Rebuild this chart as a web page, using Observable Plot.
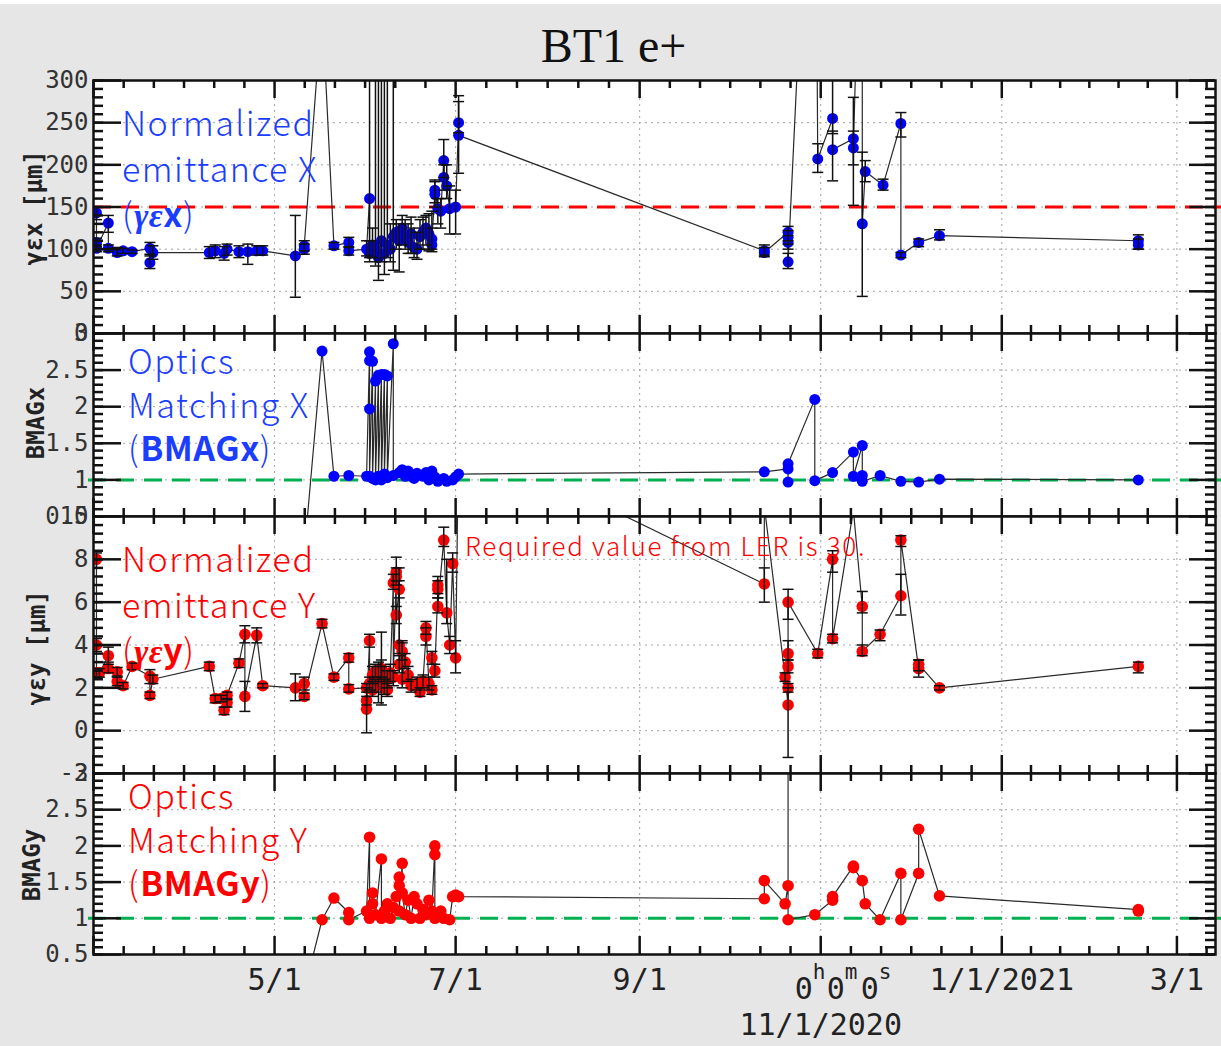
<!DOCTYPE html>
<html><head><meta charset="utf-8">
<script src="https://cdn.jsdelivr.net/npm/d3@7"></script>
<script src="https://cdn.jsdelivr.net/npm/@observablehq/plot@0.6"></script>
<style>
html,body{margin:0;padding:0;background:#e6e6e6;}
#wrap{position:relative;width:1221px;height:1046px;background:#e6e6e6;overflow:hidden;}
#strip{position:absolute;left:0;top:0;width:1221px;height:4px;background:#fff;}
#title{position:absolute;left:3px;top:21px;width:1221px;text-align:center;font-family:"Liberation Serif",serif;font-size:48px;line-height:50px;color:#111;}
.panel{position:absolute;left:0;}
.lab{position:absolute;font-family:"Noto Sans CJK JP","Noto Sans",sans-serif;font-weight:300;font-size:34px;letter-spacing:1.5px;white-space:nowrap;}
.lab b{font-weight:700;letter-spacing:0.5px;}
.lab .gr{font-family:"Liberation Serif",serif;font-style:italic;font-weight:700;}
.ytitle{position:absolute;font-family:"DejaVu Sans Mono",monospace;font-weight:bold;font-size:24px;color:#222;white-space:pre;transform:translate(-50%,-50%) rotate(-90deg);}
</style></head>
<body><div id="wrap"><div id="strip"></div><div id="title">BT1 e+</div></div>
<script>
// ---------------- data ----------------
// x axis
const xDomainStr = ["2020-03-01", "2021-03-14"];
const xMajorStr = ["2020-03-01","2020-05-01","2020-07-01","2020-09-01","2020-11-01","2021-01-01","2021-03-01"];
const xLabelDates = ["2020-05-01","2020-07-01","2020-09-01","2020-11-01","2021-01-01","2021-03-01"];
const xLabelText = ["5/1","7/1","9/1","11/1/2020","1/1/2021","3/1"];
const stampDate = "2020-11-01";              // the tick that also carries a time stamp
const stampGlyphs = ["0","h","0","m","0","s"]; // 0h0m0s

// panel 1: normalized emittance X [um]  [date, value, errLow, errHigh]
const gexRows = [
["2020-03-02",143,135,150],["2020-03-02",108,103,113],["2020-03-02",101,97,105],
["2020-03-06",131,120,140],["2020-03-06",101,97,105],["2020-03-09",96,92,102],
["2020-03-11",98,95,101],["2020-03-14",97,95,99],["2020-03-20",101,94,108],
["2020-03-20",84,77,92],["2020-03-21",96,88,104],["2020-04-09",96,89,103],
["2020-04-11",98,90,105],["2020-04-14",95,87,103],["2020-04-15",100,93,106],
["2020-04-19",97,90,104],["2020-04-22",97,82,106],["2020-04-25",98,93,104],
["2020-04-27",98,93,104],["2020-05-08",92,43,140],["2020-05-11",100,94,106],
["2020-05-11",104,98,110],["2020-05-17",390,null,null],["2020-05-21",104,100,108],
["2020-05-26",108,102,114],["2020-05-26",98,93,103],["2020-06-01",100,92,110],
["2020-06-02",160,90,420],["2020-06-02",95,85,110],["2020-06-03",105,90,125],
["2020-06-04",100,80,420],["2020-06-05",90,63,420],["2020-06-06",110,85,420],
["2020-06-07",95,70,420],["2020-06-08",105,90,420],["2020-06-09",100,85,130],
["2020-06-10",115,75,420],["2020-06-11",120,100,135],["2020-06-12",110,73,130],
["2020-06-13",125,105,140],["2020-06-14",115,100,135],["2020-06-15",108,95,130],
["2020-06-16",118,95,138],["2020-06-17",102,90,125],["2020-06-18",100,88,120],
["2020-06-19",115,100,135],["2020-06-20",120,100,138],["2020-06-21",125,105,140],
["2020-06-22",118,98,142],["2020-06-23",105,97,145],["2020-06-23",112,100,125],
["2020-06-24",165,150,180],["2020-06-24",170,155,182],["2020-06-25",148,130,160],
["2020-06-26",145,125,160],["2020-06-27",205,185,230],["2020-06-27",185,170,200],
["2020-06-28",175,160,200],["2020-06-29",148,118,175],["2020-07-01",150,118,170],
["2020-07-02",250,238,282],["2020-07-02",235,190,275],["2020-10-13",98,93,105],
["2020-10-13",96,91,102],["2020-10-21",120,110,127],["2020-10-21",114,106,122],
["2020-10-21",108,100,116],["2020-10-21",85,77,95],["2020-10-30",750,null,null],
["2020-10-31",207,191,225],["2020-11-05",255,237,400],["2020-11-05",218,181,240],
["2020-11-12",231,152,280],["2020-11-12",220,200,240],["2020-11-15",600,null,null],
["2020-11-15",130,44,215],["2020-11-16",192,180,205],["2020-11-22",176,170,183],
["2020-11-28",249,233,262],["2020-11-28",93,90,96],["2020-12-04",108,103,112],
["2020-12-11",116,111,123],["2021-02-16",110,100,117],["2021-02-16",105,100,112]
];

// panel 2: BMAGx  [date, value]
const bmagxRows = [
["2020-03-02",0],["2020-04-27",0],["2020-05-11",0],["2020-05-17",2.76],["2020-05-21",1.05],
["2020-05-26",1.06],["2020-06-01",1.05],["2020-06-02",2.75],["2020-06-02",2.63],["2020-06-02",1.97],
["2020-06-02",1.05],["2020-06-03",2.62],["2020-06-03",1.02],["2020-06-04",2.35],["2020-06-04",1.0],
["2020-06-05",2.43],["2020-06-05",1.05],["2020-06-06",2.44],["2020-06-06",1.0],["2020-06-07",2.44],
["2020-06-07",1.08],["2020-06-08",2.42],["2020-06-08",1.03],["2020-06-10",2.86],["2020-06-10",1.06],
["2020-06-12",1.1],["2020-06-13",1.14],["2020-06-14",1.05],["2020-06-15",1.12],["2020-06-16",1.08],
["2020-06-17",1.02],["2020-06-18",1.09],["2020-06-20",1.05],["2020-06-21",1.1],["2020-06-22",1.0],
["2020-06-23",1.12],["2020-06-24",1.04],["2020-06-25",0.98],["2020-06-27",1.02],["2020-06-28",0.98],
["2020-06-30",1.0],["2020-07-01",1.04],["2020-07-02",1.08],["2020-10-13",1.11],["2020-10-21",1.15],
["2020-10-21",0.97],["2020-10-21",1.22],["2020-10-30",2.1],["2020-10-30",0.99],["2020-11-05",1.1],
["2020-11-12",1.38],["2020-11-12",1.05],["2020-11-15",1.47],["2020-11-15",1.06],["2020-11-15",0.98],
["2020-11-21",1.06],["2020-11-28",0.98],["2020-12-04",0.97],["2020-12-11",1.01],["2021-02-16",1.0]
];

// panel 3: normalized emittance Y [um]  [date, value, errLow, errHigh]
const geyRows = [
["2020-03-02",8.0,7.6,8.3],["2020-03-02",4.0,3.7,4.3],["2020-03-02",2.7,2.5,2.9],
["2020-03-03",2.7,2.5,2.9],["2020-03-06",3.5,3.2,3.9],["2020-03-06",2.9,2.7,3.1],
["2020-03-09",2.75,2.55,2.95],["2020-03-09",2.3,2.1,2.5],["2020-03-11",2.1,1.95,2.25],
["2020-03-14",3.0,2.85,3.15],["2020-03-20",2.55,2.2,2.85],["2020-03-20",1.65,1.5,1.8],
["2020-03-21",2.4,2.2,2.6],["2020-04-09",3.0,2.8,3.2],["2020-04-11",1.5,1.3,1.65],
["2020-04-13",1.5,1.35,1.65],["2020-04-14",0.95,0.75,1.1],["2020-04-15",1.3,1.1,1.5],
["2020-04-15",1.65,1.45,1.8],["2020-04-19",3.15,2.95,3.35],["2020-04-21",4.5,4.1,4.9],
["2020-04-21",1.6,0.9,2.3],["2020-04-25",4.45,4.1,4.8],["2020-04-27",2.1,2.0,2.2],
["2020-05-08",2.0,1.4,2.65],["2020-05-11",2.2,1.9,2.5],["2020-05-11",1.6,1.45,1.75],
["2020-05-17",5.0,4.8,5.2],["2020-05-21",2.5,2.35,2.65],["2020-05-26",3.4,3.2,3.6],
["2020-05-26",1.95,1.8,2.15],["2020-06-01",2.0,1.8,2.2],["2020-06-01",1.4,1.2,1.6],
["2020-06-01",1.0,-0.1,2.0],["2020-06-02",4.2,3.9,4.5],["2020-06-02",2.2,1.9,2.5],
["2020-06-03",2.6,2.2,3.0],["2020-06-03",1.9,1.6,2.3],["2020-06-04",2.8,2.5,3.1],
["2020-06-04",2.1,1.8,2.4],["2020-06-05",2.5,1.3,3.2],["2020-06-06",2.3,1.2,4.6],
["2020-06-06",2.9,2.5,3.3],["2020-06-07",2.0,1.7,2.4],["2020-06-07",2.6,2.3,3.0],
["2020-06-08",2.4,2.0,2.8],["2020-06-08",1.9,1.6,2.2],["2020-06-09",2.7,2.3,3.1],
["2020-06-10",6.9,6.6,7.3],["2020-06-10",2.5,2.1,2.8],["2020-06-11",7.4,7.0,8.1],
["2020-06-11",7.2,6.8,7.6],["2020-06-11",5.4,5.0,5.8],["2020-06-12",6.6,6.2,7.0],
["2020-06-12",4.0,3.6,7.6],["2020-06-12",3.1,2.7,3.5],["2020-06-13",3.7,3.3,4.1],
["2020-06-13",2.4,2.0,4.2],["2020-06-14",3.2,2.9,3.6],["2020-06-15",2.6,2.3,3.0],
["2020-06-16",2.1,1.8,2.4],["2020-06-18",2.2,1.9,2.5],["2020-06-19",1.8,1.6,2.0],
["2020-06-20",2.3,2.0,2.6],["2020-06-21",4.4,4.0,4.8],["2020-06-21",4.8,4.5,5.1],
["2020-06-22",2.2,1.9,2.5],["2020-06-23",1.9,1.7,2.1],["2020-06-23",3.4,3.1,3.7],
["2020-06-24",2.8,2.5,3.1],["2020-06-25",6.6,6.2,7.0],["2020-06-25",6.8,6.4,7.2],
["2020-06-25",5.8,5.5,6.2],["2020-06-27",8.9,8.6,9.5],["2020-06-28",5.5,5.0,8.0],
["2020-06-29",4.0,3.6,4.4],["2020-06-30",7.8,7.4,8.3],["2020-07-01",3.4,2.7,4.2],
["2020-07-02",13.8,null,null],["2020-10-13",6.85,6.0,7.6],["2020-10-13",10.5,null,null],
["2020-10-20",2.5,2.3,2.7],["2020-10-21",1.2,-1.25,2.0],["2020-10-21",2.0,1.8,2.2],
["2020-10-21",3.0,2.7,3.3],["2020-10-21",3.6,3.3,4.2],["2020-10-21",6.0,5.2,6.6],
["2020-10-31",3.6,3.4,3.8],["2020-11-05",8.0,7.4,8.4],["2020-11-05",4.3,4.1,4.5],
["2020-11-12",10.3,null,null],["2020-11-15",5.8,5.5,6.5],["2020-11-15",3.7,3.5,4.0],
["2020-11-21",4.5,4.2,4.7],["2020-11-28",6.3,5.4,7.3],["2020-11-28",8.9,8.6,9.1],
["2020-12-04",2.9,2.5,3.3],["2020-12-04",3.1,2.8,3.3],["2020-12-11",2.0,1.9,2.1],
["2021-02-16",3.0,2.7,3.2]
];

// panel 4: BMAGy  [date, value]
const bmagyRows = [
["2020-03-02",0],["2020-04-27",0],["2020-05-11",0],["2020-05-17",0.98],["2020-05-21",1.28],
["2020-05-26",1.08],["2020-05-26",0.98],["2020-06-01",1.1],["2020-06-02",2.12],["2020-06-02",1.0],
["2020-06-03",1.2],["2020-06-03",1.35],["2020-06-04",1.05],["2020-06-06",1.82],["2020-06-06",1.0],
["2020-06-07",1.1],["2020-06-08",1.2],["2020-06-09",1.0],["2020-06-10",1.15],["2020-06-11",1.3],
["2020-06-12",1.57],["2020-06-12",1.45],["2020-06-12",1.1],["2020-06-13",1.76],["2020-06-13",1.35],
["2020-06-14",1.05],["2020-06-15",1.25],["2020-06-16",1.0],["2020-06-17",1.3],["2020-06-18",1.2],
["2020-06-19",1.0],["2020-06-20",1.12],["2020-06-21",1.05],["2020-06-22",1.25],["2020-06-23",1.1],
["2020-06-24",2.0],["2020-06-24",1.88],["2020-06-24",1.0],["2020-06-26",1.1],["2020-06-27",1.0],
["2020-06-29",0.98],["2020-06-30",1.3],["2020-07-01",1.32],["2020-07-02",1.3],["2020-10-13",1.27],
["2020-10-13",1.52],["2020-10-20",1.2],["2020-10-21",1.45],["2020-10-21",3.5],["2020-10-21",0.98],
["2020-10-30",1.05],["2020-11-05",1.25],["2020-11-05",1.3],["2020-11-12",1.72],["2020-11-12",1.7],
["2020-11-15",1.52],["2020-11-16",1.2],["2020-11-21",0.98],["2020-11-28",1.62],["2020-11-28",0.98],
["2020-12-04",1.62],["2020-12-04",2.23],["2020-12-11",1.31],["2021-02-16",1.12],["2021-02-16",1.1]
];

// reference levels
const gexLimit = 150;
const bmagIdeal = 1;

// ---------------- drawing ----------------
const W = 1221, ML = 93, MR = 6, FW = W - ML - MR;
const parse = d3.utcParse("%Y-%m-%d");
const xDomain = xDomainStr.map(parse);
const xMajor = xMajorStr.map(parse);
const xMinor = [];
for (let i = 0; i < xMajor.length - 1; i++) {
  const a = +xMajor[i], b = +xMajor[i + 1];
  for (let k = 1; k < 6; k++) xMinor.push(new Date(a + (b - a) * k / 6));
}
xMinor.push(new Date(+xMajor[xMajor.length - 1] + 10 * 864e5));

const toRows = rows => rows.map(r => ({date: parse(r[0]), value: r[1], lo: r[2] ?? null, hi: r[3] ?? null}));
const cap = {draw(ctx, size) { const r = Math.sqrt(size / Math.PI); ctx.moveTo(-r, 0); ctx.lineTo(r, 0); }};
const tk = {stroke: "#111", strokeWidth: 2.5};
const grid = {stroke: "#a3a3a3", strokeWidth: 1, strokeDasharray: "2,4"};
const mono = {fontFamily: "DejaVu Sans Mono", fill: "#222"};
const wrap = document.getElementById("wrap");

function panel(o) {
  const mt = 20, mb = o.mb ?? 20, H = mt + o.fh + mb;
  const data = toRows(o.rows);
  const err = data.filter(d => d.lo != null);
  const yMajor = d3.range(o.yDomain[0], o.yDomain[1] + 1e-9, o.yStep).map(v => +v.toFixed(3));
  const yMinor = d3.range(o.yDomain[0], o.yDomain[1] + 1e-9, o.yMinorStep).map(v => +v.toFixed(3));
  const yGrid = yMajor.slice(1, -1);
  const marks = [
    Plot.frame({fill: "white"}),
    Plot.ruleY(yGrid, {y: d => d, ...grid}),
    Plot.ruleX(xMajor.slice(1), {x: d => d, ...grid})
  ];
  if (o.ref != null) marks.push(Plot.ruleY([o.ref], {y: d => d, stroke: o.refColor, strokeWidth: 3, strokeDasharray: "18,10", insetLeft: o.refInsetLeft, insetRight: -MR}));
  marks.push(
    Plot.line(data, {x: "date", y: "value", stroke: "#2a2a2a", strokeWidth: 1.2, clip: true}),
    Plot.dot(data, {x: "date", y: "value", r: o.r, fill: o.color, stroke: "none", clip: true})
  );
  if (err.length) {
    marks.push(
      Plot.ruleX(err, {x: "date", y1: "lo", y2: "hi", stroke: "#111", strokeWidth: 1.5, clip: true}),
      Plot.dot(err, {x: "date", y: "lo", symbol: cap, r: 5.5, fill: "none", stroke: "#111", strokeWidth: 1.5, clip: true}),
      Plot.dot(err, {x: "date", y: "hi", symbol: cap, r: 5.5, fill: "none", stroke: "#111", strokeWidth: 1.5, clip: true})
    );
  }
  marks.push(
    Plot.tickX(xMajor, {x: d => d, insetBottom: o.fh - 18, ...tk}),
    Plot.tickX(xMajor, {x: d => d, insetTop: o.fh - 18, ...tk}),
    Plot.tickX(xMinor, {x: d => d, insetBottom: o.fh - 8, ...tk}),
    Plot.tickX(xMinor, {x: d => d, insetTop: o.fh - 8, ...tk}),
    Plot.tickY(yMajor, {y: d => d, insetRight: FW - 28, ...tk}),
    Plot.tickY(yMajor, {y: d => d, insetLeft: FW - 26, ...tk}),
    Plot.tickY(yMinor, {y: d => d, insetRight: FW - 10, ...tk}),
    Plot.tickY(yMinor, {y: d => d, insetLeft: FW - 10, ...tk}),
    Plot.frame({stroke: "#111", strokeWidth: 2.5}),
    Plot.text(yMajor, {y: d => d, text: d => String(d), frameAnchor: "left", textAnchor: "end", dx: -5,
      fontFamily: "DejaVu Sans Mono", fontSize: 24, fill: "#333"})
  );
  if (o.xLabels) {
    const labs = xLabelDates.map((d, i) => ({date: parse(d), label: xLabelText[i], stamp: d === stampDate}));
    marks.push(
      Plot.text(labs.filter(d => !d.stamp), {x: "date", text: "label", frameAnchor: "bottom", lineAnchor: "top", dy: 14, fontSize: 30, ...mono}),
      Plot.text(labs.filter(d => d.stamp), {x: "date", text: "label", frameAnchor: "bottom", lineAnchor: "top", dy: 59, fontSize: 30, ...mono})
    );
    // 0h0m0s time stamp above the 11/1/2020 label: digits full size, units raised and smaller
    const sd = [parse(stampDate)];
    const offs = [-26, -8, 6, 24, 40, 58];
    stampGlyphs.forEach((g, i) => {
      const digit = i % 2 === 0;
      marks.push(Plot.text(sd, {x: d => d, text: () => g, frameAnchor: "bottom", lineAnchor: "top", textAnchor: "start",
        dx: offs[i], dy: digit ? 23 : 10, fontSize: digit ? 30 : 21, ...mono}));
    });
  }
  const svg = Plot.plot({
    width: W, height: H, marginLeft: ML, marginRight: MR, marginTop: mt, marginBottom: mb,
    x: {type: "utc", domain: xDomain, axis: null},
    y: {domain: o.yDomain, axis: null},
    style: {background: "transparent", overflow: "visible"},
    marks
  });
  svg.classList.add("panel");
  svg.style.position = "absolute";
  svg.style.top = (o.top - mt) + "px";
  svg.style.left = "0px";
  wrap.appendChild(svg);
}

panel({rows: gexRows, top: 80, fh: 253, yDomain: [0, 300], yStep: 50, yMinorStep: 10, color: "#0000ff", r: 5.5, ref: gexLimit, refColor: "#ff0000", refInsetLeft: 0});
panel({rows: bmagxRows, top: 333, fh: 183, yDomain: [0.5, 3], yStep: 0.5, yMinorStep: 0.1, color: "#0000ff", r: 5.5, ref: bmagIdeal, refColor: "#00b050", refInsetLeft: -5});
panel({rows: geyRows, top: 516, fh: 257, yDomain: [-2, 10], yStep: 2, yMinorStep: 0.4, color: "#ff0000", r: 5.8, ref: null});
panel({rows: bmagyRows, top: 773, fh: 181, yDomain: [0.5, 3], yStep: 0.5, yMinorStep: 0.1, color: "#ff0000", r: 5.8, ref: bmagIdeal, refColor: "#00b050", refInsetLeft: -5, mb: 92, xLabels: true});

// annotations
function addLabel(html, left, top, color, lh) {
  const d = document.createElement("div");
  d.className = "lab"; d.innerHTML = html;
  d.style.left = left + "px"; d.style.top = top + "px"; d.style.color = color; d.style.lineHeight = lh + "px";
  wrap.appendChild(d);
}
addLabel('Normalized<br>emittance X<br>(<b class="gr">γε</b><b>x</b>)', 122, 99, "#1a3dff", 45.5);
addLabel('Optics<br>Matching X<br>(<b>BMAGx</b>)', 128, 338, "#1a3dff", 43.5);
addLabel('Normalized<br>emittance Y<br>(<b class="gr">γε</b><b>y</b>)', 122, 535, "#ff0000", 45.5);
addLabel('Optics<br>Matching Y<br>(<b>BMAGy</b>)', 128, 773, "#ff0000", 43.5);
const req = document.createElement("div");
req.className = "lab"; req.textContent = "Required value from LER is 30.";
req.style.cssText = "left:465px;top:530px;font-size:26px;line-height:30px;letter-spacing:1.7px;color:#ff0000;";
wrap.appendChild(req);

function addYTitle(text, cx, cy) {
  const d = document.createElement("div");
  d.className = "ytitle"; d.textContent = text;
  d.style.left = cx + "px"; d.style.top = cy + "px";
  wrap.appendChild(d);
}
addYTitle("γεx [μm]", 34, 208);
addYTitle("BMAGx", 36, 423);
addYTitle("γεy [μm]", 37, 648);
addYTitle("BMAGy", 32, 865);
</script></body></html>
